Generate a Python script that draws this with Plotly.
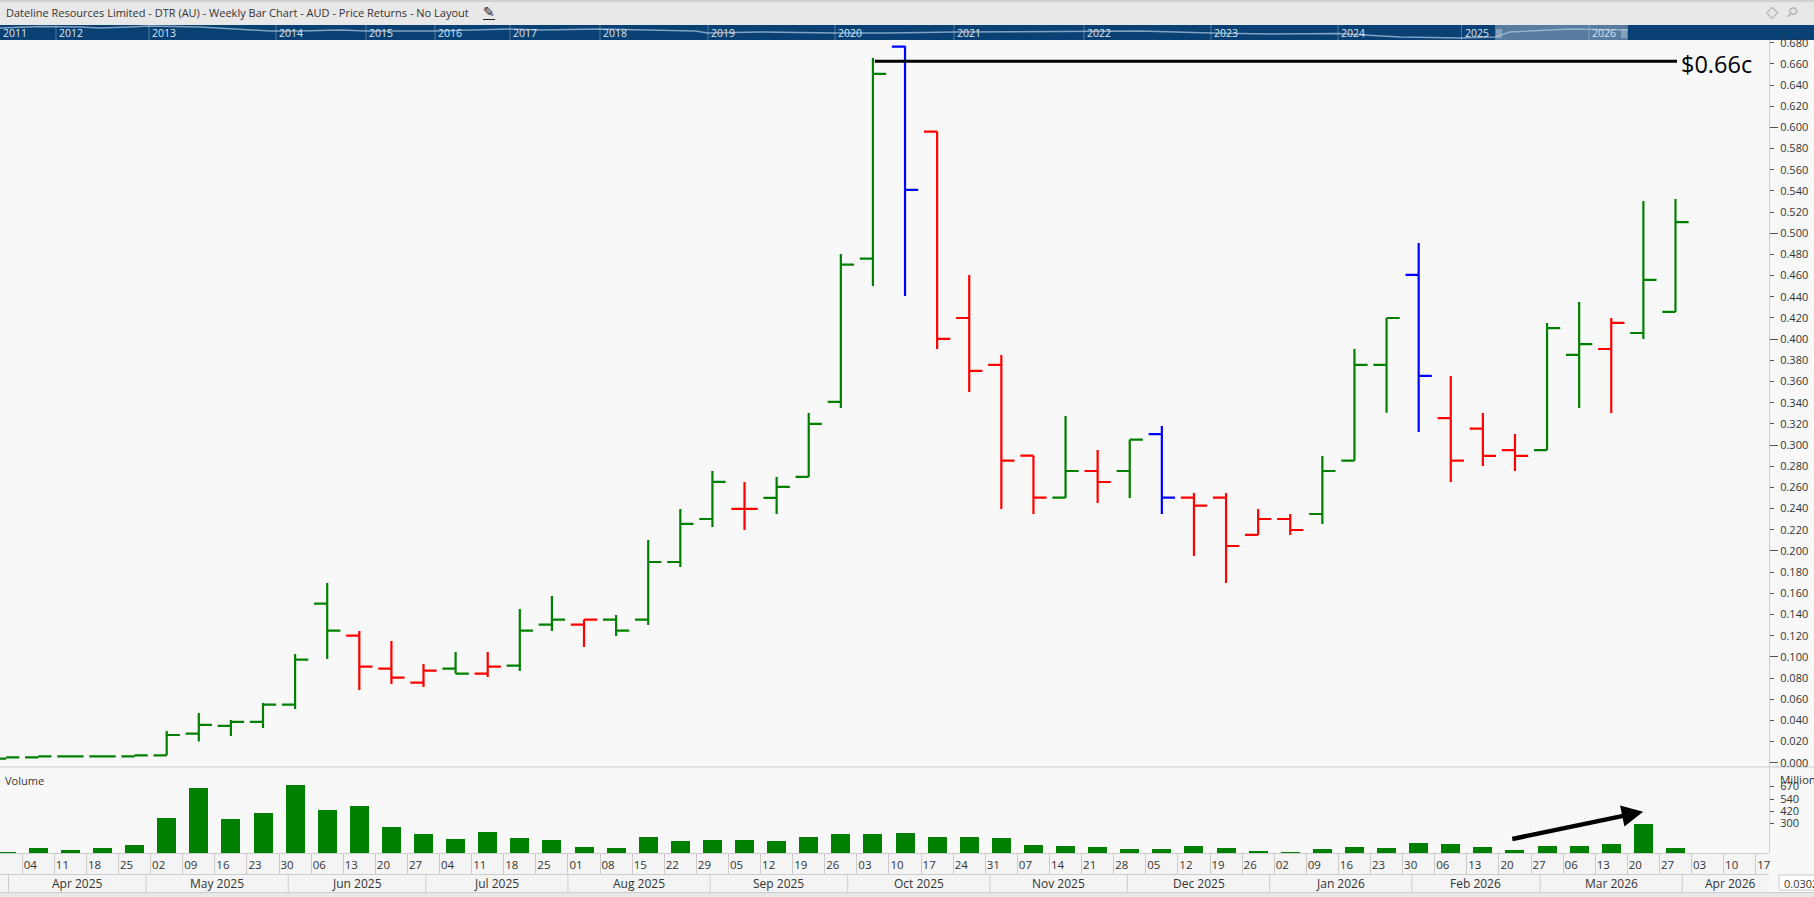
import pandas as pd
import plotly.graph_objects as go

W, H = 1814, 897
week_start = "2025-03-28"

open_ = [.004,.005,.006,.006,.006,.007,.0275,.0348,.0386,.0549,.1503,.1201,.0889,.0757,.0889,.0842,.0917,.1305,.1305,.1352,
         .1352,.1896,.2302,.2397,.2501,.2699,.3407,.4761,.6763,.596,.42,.3757,.29,.2503,.2755,.2755,.3104,.2503,.2503,.2151,.2302,
         .2349,.2853,.3757,.4607,.3255,.3155,.2953,.2953,.3851,.3907,.4058,.4257]
high = [.005,.006,.006,.006,.007,.030,.047,.0404,.0565,.1028,.1698,.1245,.115,.0933,.1047,.1047,.1453,.1575,.1352,.1396,
        .2104,.2397,.2756,.2652,.2699,.3303,.4805,.6656,.6769,.596,.4606,.3851,.29,.3274,.2953,.3051,.318,.2547,.2547,.2396,.2349,
        .2897,.3908,.42,.4909,.3652,.3303,.3104,.4153,.4351,.42,.5305,.5324]
low = [.004,.005,.006,.006,.006,.007,.020,.0253,.0329,.0508,.098,.0688,.0744,.0716,.0842,.081,.0867,.1245,.1094,.1198,
       .1302,.1849,.2227,.2199,.235,.2699,.3351,.4503,.4408,.3908,.3502,.2396,.2349,.2503,.2453,.25,.2349,.1952,.1697,.2151,.2151,
       .2254,.2853,.3304,.3123,.2651,.2802,.2755,.2953,.335,.3303,.4002,.4257]
close = [.005,.006,.006,.006,.007,.0262,.0357,.0386,.0549,.0974,.1248,.0908,.0804,.087,.0842,.0908,.1248,.1352,.1352,.1248,
         .1896,.2255,.2652,.2397,.2605,.32,.4704,.6505,.5409,.4002,.37,.2853,.2503,.2755,.2651,.3051,.2503,.2428,.2047,.2302,.2198,
         .2755,.3757,.42,.3653,.2853,.2897,.2897,.4105,.3954,.4153,.4559,.5106]
bar_colour = list("ggggggggggg" "rrr" "g" "r" "gg" "r" "g" "ggg" "r" "gggg" "b" "rrrr" "g" "r" "g" "b" "rrrr" "ggg" "b" "rrr" "gg" "r" "gg")
volume = [10,50,30,50,80,350,650,340,400,680,430,470,260,190,140,210,150,130,60,50,160,120,130,130,120,160,190,190,200,
          160,160,150,80,70,60,40,40,70,50,20,10,40,60,50,100,90,60,30,70,70,90,290,50]

day_labels = ["28","04","11","18","25","02","09","16","23","30","06","13","20","27","04","11","18","25","01","08","15","22","29",
              "05","12","19","26","03","10","17","24","31","07","14","21","28","05","12","19","26","02","09","16","23","30",
              "06","13","20","27","06","13","20","27","03","10","17"]
month_labels = ["Apr 2025","May 2025","Jun 2025","Jul 2025","Aug 2025","Sep 2025","Oct 2025","Nov 2025","Dec 2025","Jan 2026","Feb 2026","Mar 2026"]
month_starts = ["2025-04-01","2025-05-01","2025-06-01","2025-07-01","2025-08-01","2025-09-01","2025-10-01","2025-11-01","2025-12-01","2026-01-01","2026-02-01","2026-03-01","2026-04-01"]

price_ticks = [round(i*0.02, 2) for i in range(35)]
volume_ticks = [300, 420, 540, 670]

nav_years = ["2011","2012","2013","2014","2015","2016","2017","2018","2019","2020","2021","2022","2023","2024","2025","2026"]
nav_year_pos = [0,56,149,276,366,435,510,600,708,835,954,1084,1211,1338,1461.5,1589]
nav_pos = [0,40,80,100,130,150,200,240,270,300,340,366,435,510,540,600,650,695,708,760,835,890,954,1084,1140,1211,1270,1338,1400,1461,1495,1510,1570,1628]
nav_val = [12,13.5,13,12,13,14,13,11,9,9,10,9,9,11,10,11,10,9,7,8,7,7,8,9,9,7,6,6.5,3,2,3,8,11,10]

GREEN, RED, BLUE = "#008000", "#ff0000", "#0000ff"
BG, BAND, BARBG, RULE, TXT = "#f8f8f8", "#f4f4f4", "#e8e8e8", "#cccccc", "#333333"
FONT = "Open Sans"

dates = pd.date_range(week_start, periods=len(open_), freq="7D")
tick_dates = pd.date_range(week_start, periods=len(day_labels), freq="7D")
half_week = pd.Timedelta(days=3.5)


def fx(p):
    return p / W


def fy(p):
    return 1 - p / H


fig = go.Figure()
for key, col in (("g", GREEN), ("r", RED), ("b", BLUE)):
    idx = [i for i, c in enumerate(bar_colour) if c == key]
    fig.add_trace(go.Ohlc(
        x=[dates[i] for i in idx],
        open=[open_[i] for i in idx], high=[high[i] for i in idx],
        low=[low[i] for i in idx], close=[close[i] for i in idx],
        increasing=dict(line=dict(color=col, width=2.2)),
        decreasing=dict(line=dict(color=col, width=2.2)),
        tickwidth=0.41, xaxis="x", yaxis="y", showlegend=False, hoverinfo="skip"))

fig.add_trace(go.Scatter(x=["2025-10-03 10:00", "2026-03-27 08:00"], y=[.6624, .6624], mode="lines",
                         line=dict(color="#000000", width=3), xaxis="x", yaxis="y", showlegend=False, hoverinfo="skip"))
fig.add_trace(go.Bar(x=dates, y=volume, width=3.58e8, marker=dict(color=GREEN, line=dict(width=0)),
                     xaxis="x2", yaxis="y2", showlegend=False, hoverinfo="skip"))
fig.add_trace(go.Scatter(x=nav_pos, y=nav_val, mode="lines", line=dict(color="rgba(170,195,220,0.75)", width=1.5),
                         xaxis="x3", yaxis="y3", showlegend=False, hoverinfo="skip"))

shapes = []


def rect(x0, y0, x1, y1, color):
    shapes.append(dict(type="rect", xref="paper", yref="paper", x0=fx(x0), x1=fx(x1), y0=fy(y0), y1=fy(y1),
                       fillcolor=color, line_width=0, layer="below"))


def rule(x0, y0, x1, y1, color=RULE, width=1):
    shapes.append(dict(type="line", xref="paper", yref="paper", x0=fx(x0), x1=fx(x1), y0=fy(y0), y1=fy(y1),
                       line=dict(color=color, width=width), layer="below"))


rect(0, 0, W, 25, BARBG)
rect(0, 0, W, 2, "#d0d0d0")
rect(0, 25, W, 40, "#0a4174")
rect(1495, 25, 1628, 40, "#587c9f")
rect(0, 853, 1769, 892, BAND)
rect(0, 892, W, H, BARBG)
rule(0, 767, W, 767)
rule(0, 853.5, 1769, 853.5)
rule(0, 874.5, 1769, 874.5)
rule(0, 892.5, W, 892.5)
rect(1779, 875, W, 890, "#ffffff")
rule(1779, 875, W, 875)
rule(1779, 890, W, 890)
rule(1779, 875, 1779, 890)
for p in nav_year_pos[1:]:
    rule(p, 25, p, 40, "rgba(255,255,255,0.3)")
for p in (1497, 1499, 1501, 1622, 1624, 1626):
    rule(p, 29, p, 38, "rgba(255,255,255,0.55)")
rule(483, 19.5, 495, 19.5, "#222222", 1)

month_seps = [pd.Timestamp(m) - half_week for m in month_starts]
for m in month_seps:
    shapes.append(dict(type="line", xref="x2", yref="paper", x0=m, x1=m, y0=fy(875), y1=fy(892),
                       line=dict(color=RULE, width=1), layer="below"))

ann = []


def text(x, y, s, size=11, color=TXT, xanchor="left", **kw):
    ann.append(dict(xref="paper", yref="paper", x=fx(x), y=fy(y), text=s, showarrow=False, xanchor=xanchor,
                    yanchor="middle", xshift=0, font=dict(family=FONT, size=size, color=color), **kw))


text(4, 13, "Dateline Resources Limited - DTR (AU) - Weekly Bar Chart - AUD - Price Returns - No Layout", 11)
ann.append(dict(xref="paper", yref="paper", x=fx(489), y=fy(12), text="✎", showarrow=False, xanchor="center", yanchor="middle",
                font=dict(family="DejaVu Sans", size=14, color="#222222")))
ann.append(dict(xref="paper", yref="paper", x=fx(1772), y=fy(12), text="◇", showarrow=False, xanchor="center", yanchor="middle",
                font=dict(family="DejaVu Sans", size=16, color="#a8a8a8")))
ann.append(dict(xref="paper", yref="paper", x=fx(1792), y=fy(12), text="⚲", showarrow=False, textangle=45, xanchor="center", yanchor="middle",
                font=dict(family="DejaVu Sans", size=14, color="#b0b0b0")))
text(3, 780, "Volume", 11)
text(1778, 779, "Million", 11.5)
text(1782, 883, "0.0302", 11)

for y_lab, p in zip(nav_years, nav_year_pos):
    ann.append(dict(xref="x3", yref="paper", x=p + 1, y=fy(33), text=y_lab, showarrow=False, xanchor="left",
                    yanchor="middle", font=dict(family=FONT, size=10.5, color="#dbe6f0")))

for lab, a, b in zip(month_labels, month_seps[:-1], month_seps[1:]):
    ann.append(dict(xref="x2", yref="paper", x=a + (b - a) / 2, y=fy(883.5), text=lab, showarrow=False, xanchor="center",
                    yanchor="middle", font=dict(family=FONT, size=12, color=TXT)))
ann.append(dict(xref="x2", yref="paper", x="2026-04-08 02:00", y=fy(883.5), text="Apr 2026", showarrow=False,
                xanchor="center", yanchor="middle", font=dict(family=FONT, size=12, color=TXT)))

ann.append(dict(xref="x", yref="y", x="2026-03-27 08:00", y=.66, text="$0.66c", showarrow=False, xanchor="left", xshift=2,
                yanchor="middle", font=dict(family=FONT, size=23.5, color="#000000")))
ann.append(dict(xref="x2", yref="y2", axref="x2", ayref="y2", x="2026-03-19 23:00", y=413, ax="2026-02-19 02:00", ay=137,
                text="", showarrow=True, arrowhead=2, arrowsize=0.95, arrowwidth=4.5, arrowcolor="#000000"))

x_range = ["2025-03-26 15:36", "2026-04-26 05:00"]
fig.update_layout(
    width=W, height=H, margin=dict(l=0, r=0, t=0, b=0, pad=0), autosize=False,
    paper_bgcolor=BG, plot_bgcolor="rgba(0,0,0,0)", showlegend=False, bargap=0,
    font=dict(family=FONT, size=11, color=TXT),
    xaxis=dict(domain=[0, 1], range=x_range, type="date", anchor="y", showticklabels=False, showgrid=False,
               zeroline=False, ticks="", rangeslider=dict(visible=False), matches="x2", automargin=False),
    yaxis=dict(domain=[fy(767), fy(40)], range=[-0.004, 0.6825], anchor="free", position=fx(1769), side="right", automargin=False,
               tickmode="array", tickvals=price_ticks, ticktext=[f"{v:.3f}" for v in price_ticks],
               ticks="outside", ticklen=4, tickwidth=1, tickcolor="#555555", showline=True, linecolor=RULE, linewidth=1,
               showgrid=False, zeroline=False, ticklabelstandoff=4,
               tickfont=dict(family=FONT, size=11, color=TXT),
               minor=dict(tickmode="array", tickvals=[round(i*0.1, 1) for i in range(7)], ticks="outside", ticklen=8,
                          tickcolor="#555555", tickwidth=1, showgrid=False)),
    xaxis2=dict(domain=[0, 1], range=x_range, type="date", anchor="y2", showgrid=False, zeroline=False, automargin=False,
                tickmode="array", tickvals=list(tick_dates), ticktext=day_labels, ticks="", ticklen=0,
                ticklabelshift=-8, ticklabelstandoff=3, tickangle=0,
                tickfont=dict(family=FONT, size=11.5, color=TXT),
                minor=dict(tickmode="array", tickvals=[d - half_week for d in tick_dates], ticks="outside", ticklen=21,
                           tickcolor=RULE, tickwidth=1, showgrid=False)),
    yaxis2=dict(domain=[fy(853), fy(767)], range=[0, 860], anchor="free", position=fx(1769), side="right", automargin=False,
                tickmode="array", tickvals=volume_ticks, ticks="outside", ticklen=4, tickcolor="#555555",
                showline=True, linecolor=RULE, linewidth=1, showgrid=False, zeroline=False, ticklabelstandoff=4,
                tickfont=dict(family=FONT, size=11, color=TXT)),
    xaxis3=dict(domain=[0, 1], range=[0, W], anchor="y3", visible=False, automargin=False),
    yaxis3=dict(domain=[fy(40), fy(25)], range=[0, 15], anchor="x3", visible=False, automargin=False),
    shapes=shapes, annotations=ann,
)
fig.write_html("out.html", config=dict(displayModeBar=False),
               post_script="document.body.style.margin='0';document.body.style.overflow='hidden';")
